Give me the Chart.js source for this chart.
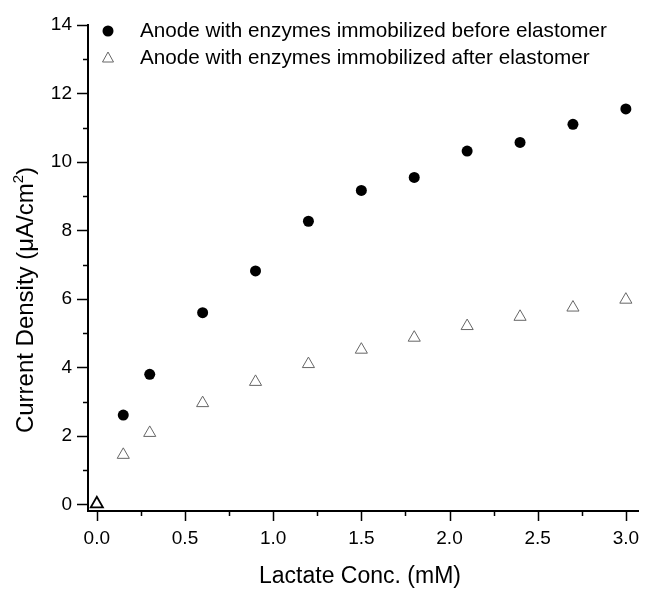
<!DOCTYPE html>
<html>
<head>
<meta charset="utf-8">
<script src="https://cdn.jsdelivr.net/npm/chart.js@4.4.1/dist/chart.umd.min.js"></script>
<style>
  html, body { margin: 0; padding: 0; background: #fff; }
  #wrap { width: 647px; height: 590px; position: relative; }
</style>
</head>
<body>
<div id="wrap"><canvas id="chart"></canvas></div>
<script>
// lactate concentration, mM
const conc = [0.15, 0.3, 0.6, 0.9, 1.2, 1.5, 1.8, 2.1, 2.4, 2.7, 3.0];
const concAfter = [0, 0.15, 0.3, 0.6, 0.9, 1.2, 1.5, 1.8, 2.1, 2.4, 2.7, 3.0];
// current density, uA/cm2
const before = [2.61, 3.80, 5.60, 6.82, 8.27, 9.17, 9.55, 10.32, 10.57, 11.10, 11.55];
const after = [0.02, 1.45, 2.09, 2.96, 3.58, 4.10, 4.52, 4.87, 5.21, 5.48, 5.75, 5.98];

const xTicks = [0, 0.5, 1.0, 1.5, 2.0, 2.5, 3.0];
const yTicks = [0, 2, 4, 6, 8, 10, 12, 14];
const legendLabels = [
    'Anode with enzymes immobilized before elastomer',
    'Anode with enzymes immobilized after elastomer'
];
const xTitle = 'Lactate Conc. (mM)';

const FONT = '"Liberation Sans", Arial, sans-serif';

// outward ticks (major + minor), axis titles and the legend
const axisDecor = {
    id: 'axisDecor',
    afterDraw(chart) {
        const ctx = chart.ctx;
        const xs = chart.scales.x, ys = chart.scales.y;
        const area = chart.chartArea;
        ctx.save();
        ctx.strokeStyle = '#000';
        ctx.lineWidth = 1.5;
        ctx.beginPath();
        for (let i = 0; i <= 12; i++) {
            const v = i * 0.25;
            const px = Math.round(xs.getPixelForValue(v)) + 0.5;
            ctx.moveTo(px, area.bottom);
            ctx.lineTo(px, area.bottom + (i % 2 === 0 ? 10 : 5));
        }
        for (let v = 0; v <= 14; v += 1) {
            const py = Math.round(ys.getPixelForValue(v)) + 0.5;
            ctx.moveTo(area.left, py);
            ctx.lineTo(area.left - (v % 2 === 0 ? 11 : 5), py);
        }
        ctx.stroke();

        ctx.fillStyle = '#000';
        ctx.font = '23px ' + FONT;
        ctx.textAlign = 'center';
        ctx.textBaseline = 'middle';
        ctx.fillText(xTitle, 360, 577);

        // y title with superscript
        const parts = [
            {t: 'Current Density (\u03BCA/cm', size: 24, dy: 0},
            {t: '2', size: 15, dy: -10},
            {t: ')', size: 24, dy: 0},
        ];
        ctx.textAlign = 'left';
        ctx.textBaseline = 'alphabetic';
        let total = 0;
        parts.forEach((p) => {
            ctx.font = p.size + 'px ' + FONT;
            p.w = ctx.measureText(p.t).width;
            total += p.w;
        });
        ctx.translate(33, 300);
        ctx.rotate(-Math.PI / 2);
        let cx = -total / 2;
        parts.forEach((p) => {
            ctx.font = p.size + 'px ' + FONT;
            ctx.fillText(p.t, cx, p.dy);
            cx += p.w;
        });
        ctx.restore();

        // legend in the upper left of the plot
        ctx.save();
        ctx.fillStyle = '#000';
        ctx.beginPath();
        ctx.arc(108, 31, 5.5, 0, Math.PI * 2);
        ctx.fill();
        ctx.strokeStyle = '#666';
        ctx.lineWidth = 1;
        ctx.beginPath();
        ctx.moveTo(108, 52);
        ctx.lineTo(113.5, 62);
        ctx.lineTo(102.5, 62);
        ctx.closePath();
        ctx.stroke();
        ctx.font = '20.7px ' + FONT;
        ctx.textBaseline = 'middle';
        ctx.fillText(legendLabels[0], 140, 31);
        ctx.fillText(legendLabels[1], 140, 58);
        ctx.restore();
    }
};

new Chart(document.getElementById('chart').getContext('2d'), {
    type: 'scatter',
    data: {
        datasets: [
            {
                label: legendLabels[0],
                data: conc.map((x, i) => ({x: x, y: before[i]})),
                pointStyle: 'circle',
                pointRadius: 5.5,
                pointHoverRadius: 5.5,
                backgroundColor: '#000',
                borderColor: '#000',
                borderWidth: 0,
                clip: false,
            },
            {
                label: legendLabels[1],
                data: concAfter.map((x, i) => ({x: x, y: after[i]})),
                pointStyle: 'triangle',
                pointRadius: 7,
                pointHoverRadius: 7,
                backgroundColor: 'rgba(255,255,255,0)',
                borderColor: concAfter.map((x) => x === 0 ? '#000' : '#666'),
                borderWidth: concAfter.map((x) => x === 0 ? 1.8 : 1),
                clip: false,
            },
        ],
    },
    options: {
        responsive: true,
        maintainAspectRatio: false,
        animation: false,
        layout: {
            padding: {top: 25, right: 3, left: 0, bottom: 0}
        },
        plugins: {
            legend: {display: false},
            tooltip: {enabled: false},
        },
        scales: {
            x: {
                type: 'linear',
                min: -0.05,
                max: 3.07,
                afterBuildTicks: (scale) => { scale.ticks = xTicks.map((v) => ({value: v})); },
                afterFit: (scale) => {
                    scale.height = 79;
                    scale.paddingLeft = 0;
                    scale.paddingRight = 0;
                },
                ticks: {
                    color: '#000',
                    font: {family: FONT, size: 19},
                    padding: 16,
                    maxRotation: 0,
                    callback: (v) => Number(v).toFixed(1),
                },
                grid: {display: false, drawTicks: false},
                border: {display: true, color: '#000', width: 2},
            },
            y: {
                type: 'linear',
                min: -0.19,
                max: 14,
                afterBuildTicks: (scale) => { scale.ticks = yTicks.map((v) => ({value: v})); },
                afterFit: (scale) => {
                    scale.width = 88;
                    scale.paddingTop = 0;
                    scale.paddingBottom = 0;
                },
                ticks: {
                    color: '#000',
                    font: {family: FONT, size: 19},
                    padding: 16,
                    callback: (v) => String(v),
                },
                grid: {display: false, drawTicks: false},
                border: {display: true, color: '#000', width: 2},
            },
        },
    },
    plugins: [axisDecor],
});
</script>
</body>
</html>
